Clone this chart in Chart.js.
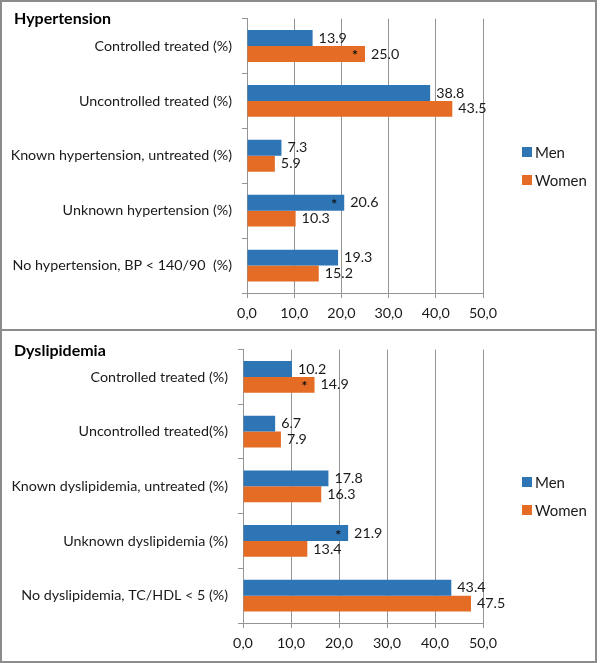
<!DOCTYPE html>
<html>
<head>
<meta charset="utf-8">
<script src="https://cdn.jsdelivr.net/npm/chart.js@4"></script>
<style>
  html, body { margin: 0; padding: 0; background: #fff; }
  #wrap { position: relative; width: 600px; height: 663px; overflow: hidden; }
  .panel { position: absolute; left: 0; width: 600px; }
  .frame { position: absolute; border: 2px solid #8c8c8c; box-sizing: border-box; pointer-events: none; }
  .title { position: absolute; left: 14px; font-family: Lato, "Open Sans", sans-serif; font-weight: bold; font-size: 16px; color: #000; }
</style>
</head>
<body>
<div id="wrap">
  <div class="panel" style="top:0;height:331px;"><canvas id="c1" width="600" height="331"></canvas></div>
  <div class="panel" style="top:331px;height:332px;"><canvas id="c2" width="600" height="332"></canvas></div>
  <div class="frame" style="left:0;top:0;width:597px;height:663px;"></div>
  <div class="frame" style="left:0;top:329px;width:597px;height:2px;border-width:2px 0 0 0;"></div>
  <div class="title" style="top:8px;">Hypertension</div>
  <div class="title" style="top:340px;">Dyslipidemia</div>
</div>
<script>
// ---- data ----
const seriesNames = ["Men", "Women"];
const htCategories = ["Controlled treated (%)", "Uncontrolled treated (%)", "Known hypertension, untreated (%)", "Unknown hypertension (%)", "No hypertension, BP < 140/90  (%)"];
const htMen   = [13.9, 38.8, 7.3, 20.6, 19.3];
const htWomen = [25.0, 43.5, 5.9, 10.3, 15.2];
const htSigMen   = [false, false, false, true, false];
const htSigWomen = [true, false, false, false, false];

const dlCategories = ["Controlled treated (%)", "Uncontrolled treated(%)", "Known dyslipidemia, untreated (%)", "Unknown dyslipidemia (%)", "No dyslipidemia, TC/HDL < 5 (%)"];
const dlMen   = [10.2, 6.7, 17.8, 21.9, 43.4];
const dlWomen = [14.9, 7.9, 16.3, 13.4, 47.5];
const dlSigMen   = [false, false, false, true, false];
const dlSigWomen = [true, false, false, false, false];

const xTicks = [0, 10, 20, 30, 40, 50];

// ---- styles ----
const BLUE = "#2E75B6";
const ORANGE = "#E46C24";
const GRID = "#949494";
const FONT = "Lato, 'Open Sans', sans-serif";

const labelPlugin = {
  id: "valueLabels",
  afterDatasetsDraw(chart, args, opts) {
    const ctx = chart.ctx;
    ctx.save();
    chart.data.datasets.forEach((ds, di) => {
      const meta = chart.getDatasetMeta(di);
      meta.data.forEach((bar, i) => {
        const v = ds.data[i];
        ctx.font = "14.3px " + FONT;
        ctx.fillStyle = "#1a1a1a";
        ctx.textAlign = "left";
        ctx.textBaseline = "middle";
        ctx.fillText(v.toFixed(1), bar.x + 6, bar.y);
        if (ds.sig[i]) {
          ctx.font = "bold 14px " + FONT;
          ctx.fillStyle = "#111";
          ctx.textAlign = "center";
          ctx.fillText("*", bar.x - 10, bar.y + 2);
        }
      });
    });
    // legend
    const lx = 522, ly = opts.legendY;
    chart.data.datasets.forEach((ds, di) => {
      const y = ly + di * 28;
      ctx.fillStyle = ds.backgroundColor;
      ctx.fillRect(lx, y - 5, 10, 10);
      ctx.fillStyle = "#1a1a1a";
      ctx.font = "15px " + FONT;
      ctx.textAlign = "left";
      ctx.textBaseline = "middle";
      ctx.fillText(ds.label, lx + 13, y + 1);
    });
    ctx.restore();
  }
};

function makeChart(id, cats, men, women, sigMen, sigWomen, cfg) {
  return new Chart(document.getElementById(id), {
    type: "bar",
    data: {
      labels: cats,
      datasets: [
        { label: seriesNames[0], data: men, sig: sigMen, backgroundColor: BLUE },
        { label: seriesNames[1], data: women, sig: sigWomen, backgroundColor: ORANGE }
      ]
    },
    options: {
      indexAxis: "y",
      responsive: false,
      animation: false,
      devicePixelRatio: 1,
      layout: { padding: { left: 0, right: 117, top: cfg.top, bottom: 0 } },
      datasets: { bar: { categoryPercentage: 0.58, barPercentage: 1.0 } },
      plugins: {
        legend: { display: false },
        tooltip: { enabled: false },
        valueLabels: { legendY: cfg.legendY }
      },
      scales: {
        x: {
          min: 0, max: 50,
          afterBuildTicks(s) { s.ticks = xTicks.map(v => ({ value: v })); },
          afterFit(s) { s.height = cfg.xHeight; },
          grid: { color: GRID, lineWidth: 1, tickLength: 5, drawTicks: true },
          border: { color: GRID, width: 1 },
          ticks: {
            padding: 7,
            color: "#1a1a1a",
            font: { family: FONT, size: 14.3 },
            callback: v => v.toFixed(1).replace(".", ",")
          }
        },
        y: {
          afterFit(s) { s.width = cfg.yWidth; },
          grid: { drawOnChartArea: false, drawTicks: true, tickLength: 5, color: GRID, offset: true },
          border: { color: GRID, width: 1 },
          ticks: {
            padding: 10,
            color: "#1a1a1a",
            font: { family: FONT, size: 14.3 }
          }
        }
      }
    },
    plugins: [labelPlugin]
  });
}

makeChart("c1", htCategories, htMen, htWomen, htSigMen, htSigWomen, { top: 17, xHeight: 38, yWidth: 247, legendY: 152 });
makeChart("c2", dlCategories, dlMen, dlWomen, dlSigMen, dlSigWomen, { top: 16, xHeight: 40, yWidth: 243, legendY: 151 });
</script>
</body>
</html>
